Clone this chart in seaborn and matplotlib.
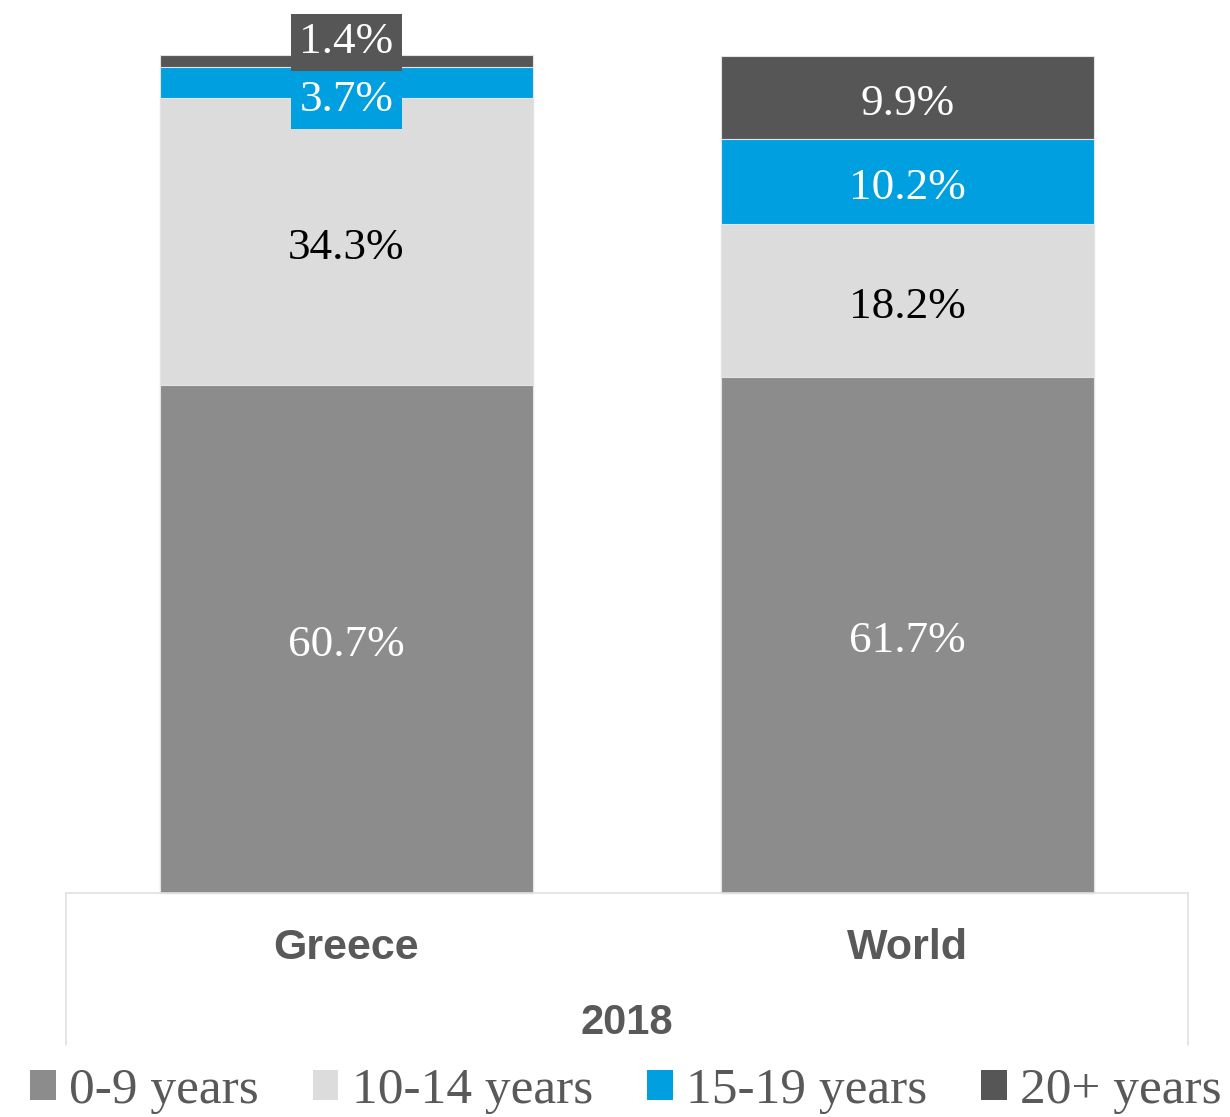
import numpy as np
import pandas as pd
import matplotlib
matplotlib.use("Agg")
import matplotlib.pyplot as plt
from matplotlib.patches import Patch
import seaborn as sns

countries = ["Greece", "World"]
groups = ["0-9 years", "10-14 years", "15-19 years", "20+ years"]
greece = [60.7, 34.3, 3.7, 1.4]
world = [61.7, 18.2, 10.2, 9.9]
year_label = "2018"
colors = ["#8c8c8c", "#dcdcdc", "#009fdf", "#565656"]
label_colors = ["white", "black", "white", "white"]

sns.set_theme(style="white")
plt.rcParams["font.family"] = ["Liberation Serif", "DejaVu Serif"]

W, H = 1230, 1117
fig = plt.figure(figsize=(W / 100, H / 100), dpi=100)
ax = fig.add_axes([66 / W, (H - 893) / H, (1188 - 66) / W, (893 - 56) / H])

vals = np.array([greece, world])  # rows: countries, cols: groups
cum = np.cumsum(vals, axis=1)

# draw cumulative bars from top down so smaller ones overlay
for j in range(len(groups) - 1, -1, -1):
    df = pd.DataFrame({"country": countries, "value": cum[:, j]})
    sns.barplot(data=df, x="country", y="value", color=colors[j], saturation=1,
                width=0.665, edgecolor="#e4e4e4", linewidth=0.8, ax=ax)

ax.set_xlim(-0.5, 1.5)
ax.set_ylim(0, 100)
ax.set_ylabel("")
ax.set_xlabel("")
ax.set_yticks([])
for s in ["left", "right", "top"]:
    ax.spines[s].set_visible(False)
ax.spines["bottom"].set_color("#e0e0e0")
ax.spines["bottom"].set_linewidth(1.2)
for b in ax.patches:
    b.set_clip_on(False)

ax.tick_params(axis="x", length=0, pad=25)
for lab in ax.get_xticklabels():
    lab.set_fontfamily(["Liberation Sans", "DejaVu Sans"])
    lab.set_fontweight("bold")
    lab.set_fontsize(31)
    lab.set_color("#595959")

# category table lines
for xa in [0, 1]:
    ax.plot([xa, xa], [0, -0.1816], transform=ax.transAxes, color="#e0e0e0",
            lw=1.2, clip_on=False)
ax.text(0.5, -0.1555, year_label, transform=ax.transAxes, ha="center", va="center",
        fontfamily=["Liberation Sans", "DejaVu Sans"], fontweight="bold",
        fontsize=30, color="#595959")

# data labels
offsets = {(0, 2): -13.0, (0, 3): 13.5}
for i in range(len(countries)):
    for j in range(len(groups)):
        v = vals[i, j]
        yc = cum[i, j] - v / 2
        kw = {}
        if (i, j) in offsets:
            off = offsets[(i, j)]
            kw["bbox"] = dict(boxstyle="square,pad=0.19", fc=colors[j], ec="none")
        else:
            off = -4.5
        ax.annotate(f"{v:.1f}%", xy=(i, yc), xytext=(0, off), textcoords="offset points",
                    ha="center", va="center", fontsize=32.5, color=label_colors[j],
                    annotation_clip=False, **kw)

handles = [Patch(facecolor=c, edgecolor="none") for c in colors]
leg = fig.legend(handles, groups, loc="center",
                 bbox_to_anchor=(0.5 + 11 / W, (H - 1091) / H),
                 ncol=4, frameon=False, fontsize=37, handlelength=0.5, handleheight=0.5,
                 handletextpad=0.26, columnspacing=1.05, borderaxespad=0, borderpad=0)
for t in leg.get_texts():
    t.set_color("#595959")

fig.savefig("out.png", dpi=100)
